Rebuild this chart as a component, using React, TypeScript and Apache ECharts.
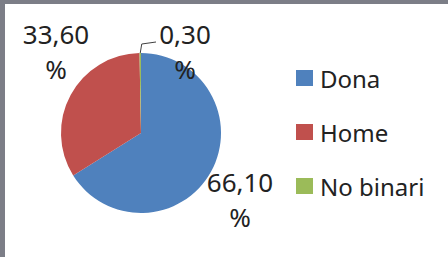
import React, { useEffect, useRef } from 'react';
import * as echarts from 'echarts';

const categories = ['Dona', 'Home', 'No binari'];
const values = [66.1, 33.6, 0.3];
const colors = ['#4f81bd', '#c0504d', '#9bbb59'];

// layout: centre of each data label block
const labelAnchors: [number, number][] = [[240, 199], [56, 51], [185, 51]];

const CX = 141;
const CY = 133;
const R = 80;
const FONT = '"Noto Sans", "Open Sans", sans-serif';
const TEXT = '#222222';

export default function App() {
  const ref = useRef<HTMLDivElement>(null);
  useEffect(() => {
    const chart = echarts.init(ref.current!, null, { renderer: 'svg' });
    const total = values.reduce((a, b) => a + b, 0);
    const before = values.slice(0, 2).reduce((a, b) => a + b, 0);
    const frac = (before + values[2] / 2) / total;
    const ang = frac * Math.PI * 2;
    const sx = CX + R * Math.sin(ang);
    const sy = CY - R * Math.cos(ang);

    chart.setOption({
      animation: false,
      color: colors,
      graphic: [
        { type: 'rect', shape: { x: 0, y: 0, width: 448, height: 4 }, style: { fill: '#7c7e87' }, silent: true },
        { type: 'rect', shape: { x: 0, y: 0, width: 5, height: 257 }, style: { fill: '#7c7e87' }, silent: true },
      ],
      legend: {
        orient: 'vertical',
        left: 291,
        top: 61,
        itemWidth: 17,
        itemHeight: 16,
        itemGap: 30,
        icon: 'rect',
        selectedMode: false,
        data: categories,
        textStyle: { fontFamily: FONT, fontSize: 24, color: TEXT, lineHeight: 24, padding: [0, 0, 0, 2] },
      },
      series: [
        {
          type: 'pie',
          center: [CX, CY],
          radius: R,
          startAngle: 90,
          clockwise: true,
          avoidLabelOverlap: false,
          silent: true,
          emphasis: { disabled: true },
          label: {
            show: true,
            position: 'outside',
            fontFamily: FONT,
            fontSize: 26,
            lineHeight: 35,
            color: TEXT,
            formatter: (p: any) => p.value.toFixed(2).replace('.', ',') + '\n%',
          },
          labelLine: { show: false },
          labelLayout: (params: any) => {
            const i = params.dataIndex;
            const a = labelAnchors[i];
            const out: any = { x: a[0], y: a[1], align: 'center', verticalAlign: 'middle' };
            if (i === 2) {
              out.labelLinePoints = [
                [sx, sy],
                [sx + 1.5, 44],
                [a[0] - 29, 42],
              ];
            }
            return out;
          },
          data: categories.map((name, i) => ({
            name,
            value: values[i],
            labelLine:
              i === 2
                ? { show: true, length: 8, length2: 10, lineStyle: { color: '#404040', width: 1 } }
                : { show: false },
          })),
        },
      ],
    });
    return () => chart.dispose();
  }, []);
  return (
    <div
      ref={ref}
      style={{ position: 'fixed', left: 0, top: 0, width: 448, height: 257, background: '#ffffff' }}
    />
  );
}
